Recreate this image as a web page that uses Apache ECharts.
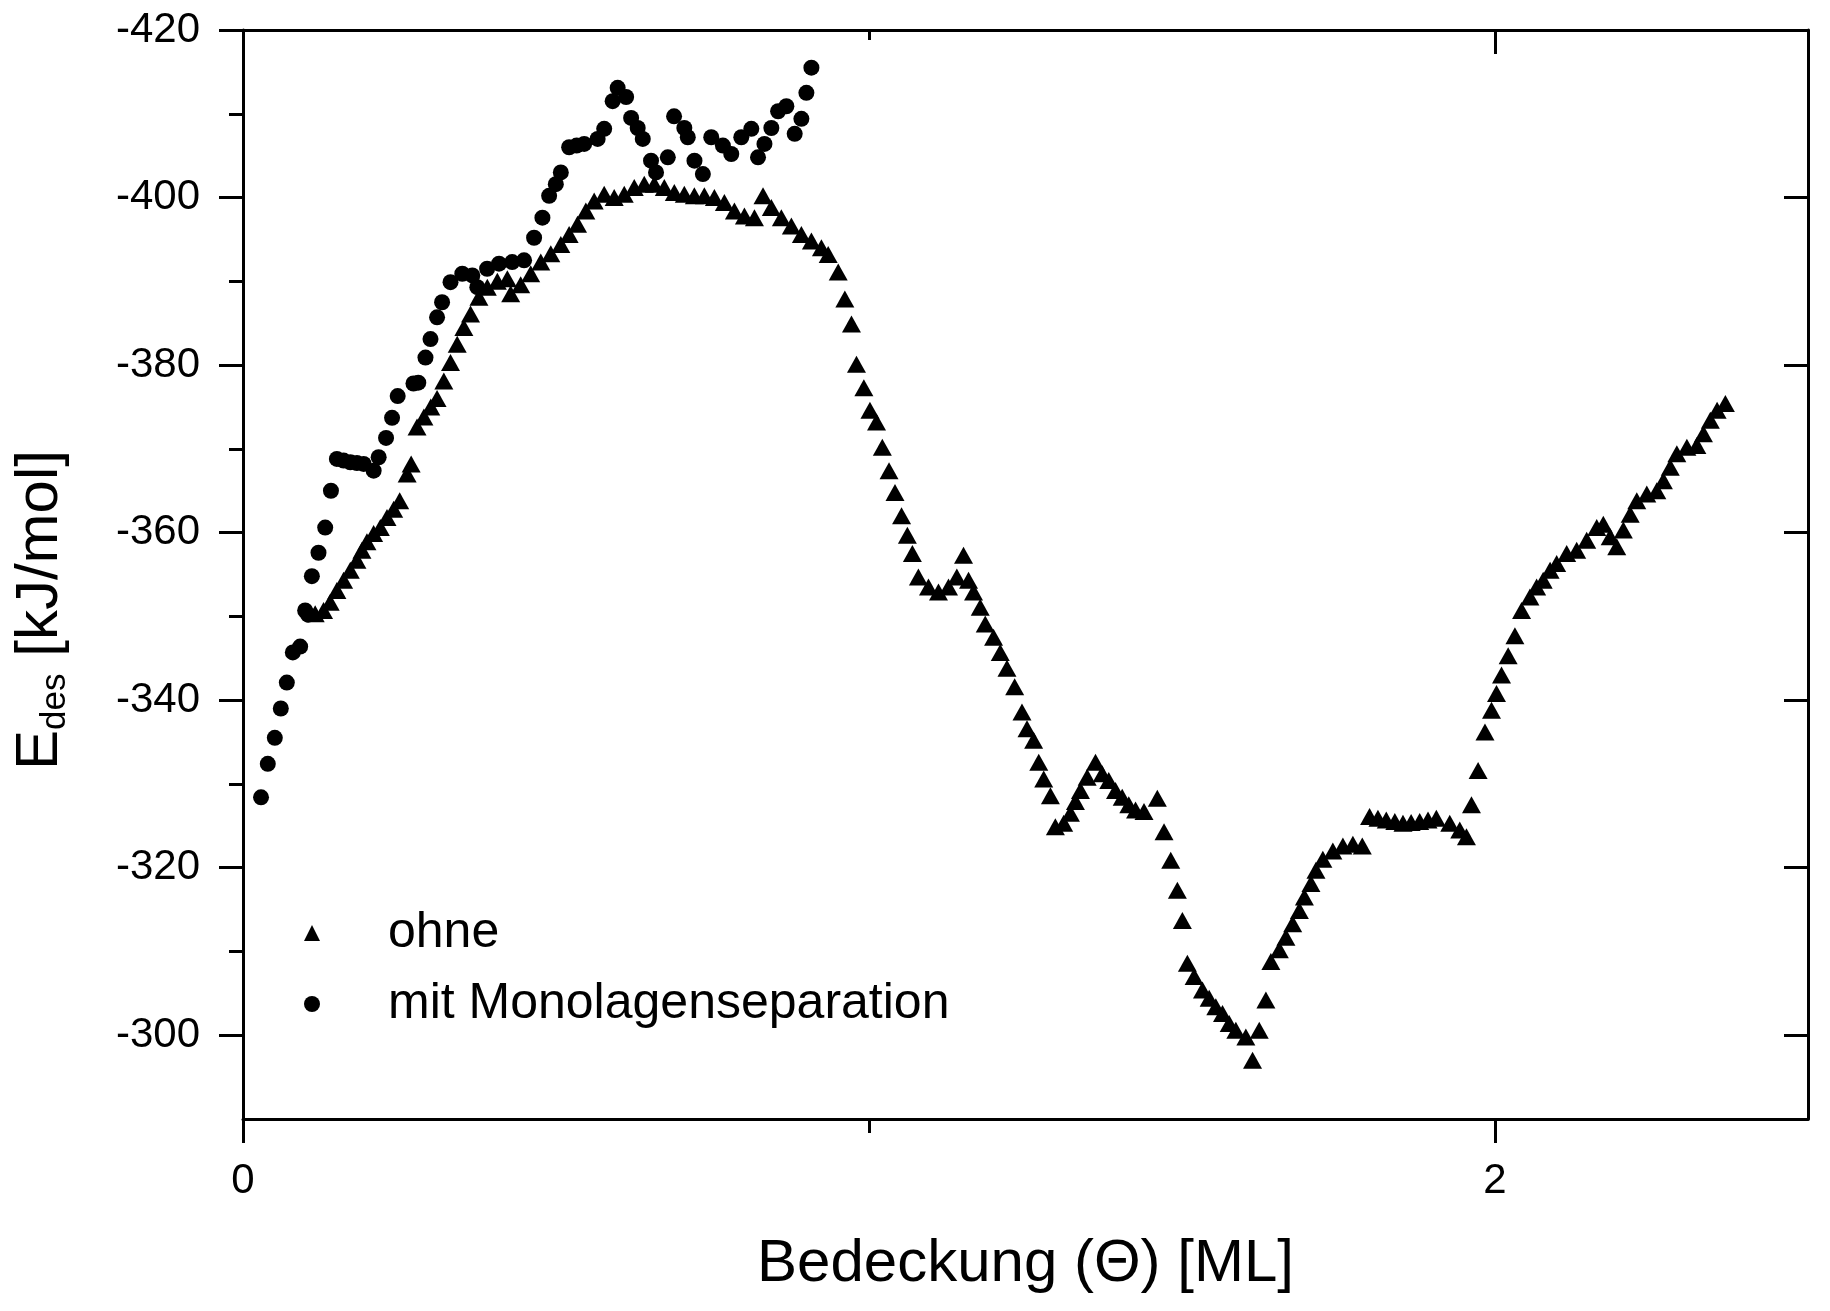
<!DOCTYPE html>
<html>
<head>
<meta charset="utf-8">
<script src="https://cdn.jsdelivr.net/npm/echarts@6/dist/echarts.min.js"></script>
<style>
html,body{margin:0;padding:0;background:#fff;}
#chart{width:1830px;height:1311px;}
</style>
</head>
<body>
<div id="chart"></div>
<script>
// ---- data ----
const seriesNames = ['ohne', 'mit Monolagenseparation'];

// "ohne" (triangles): [coverage ML, E_des kJ/mol]
const ohne = [
[0.1153,-350.3],[0.1287,-350.7],[0.1393,-351.7],[0.150,-353.1],[0.1607,-354.3],[0.1714,-355.5],
[0.182,-356.7],[0.190,-357.9],[0.198,-358.9],[0.2087,-359.9],[0.2194,-360.6],[0.230,-361.8],
[0.2407,-362.8],[0.2503,-363.8],[0.2622,-367.0],[0.2686,-368.2],[0.278,-372.6],[0.289,-373.8],
[0.300,-375.0],[0.310,-376.0],[0.3208,-378.1],[0.3315,-380.3],[0.3422,-382.5],[0.3528,-384.5],
[0.3635,-386.1],[0.3769,-388.1],[0.3903,-389.3],[0.4063,-390.0],[0.4223,-390.3],[0.4276,-388.5],
[0.4436,-389.6],[0.4596,-390.9],[0.4757,-392.3],[0.4917,-393.3],[0.5077,-394.4],[0.521,-395.6],
[0.5344,-396.8],[0.5477,-398.4],[0.561,-399.6],[0.577,-400.4],[0.593,-400.0],[0.609,-400.4],
[0.625,-401.2],[0.641,-401.6],[0.657,-401.6],[0.673,-401.2],[0.689,-400.6],[0.705,-400.4],
[0.721,-400.2],[0.737,-400.2],[0.753,-400.0],[0.769,-399.4],[0.785,-398.4],[0.801,-397.8],
[0.817,-397.6],[0.8307,-400.2],[0.844,-398.8],[0.860,-397.6],[0.876,-396.6],[0.892,-395.6],
[0.908,-394.8],[0.924,-394.0],[0.9348,-393.2],[0.9508,-391.1],[0.9614,-387.9],[0.972,-384.9],
[0.980,-380.1],[0.9918,-377.3],[1.0015,-374.6],[1.012,-373.2],[1.0213,-370.2],[1.032,-367.4],
[1.0415,-364.8],[1.052,-362.0],[1.0613,-359.7],[1.0693,-357.5],[1.0789,-354.7],[1.095,-353.5],
[1.111,-352.9],[1.127,-353.5],[1.1403,-354.7],[1.151,-357.3],[1.159,-354.3],[1.167,-352.9],
[1.1777,-351.1],[1.1857,-349.1],[1.199,-347.5],[1.2097,-345.7],[1.2204,-343.8],[1.2327,-341.6],
[1.2444,-338.6],[1.2524,-336.6],[1.263,-335.2],[1.2712,-332.6],[1.2791,-330.6],[1.2898,-328.6],
[1.2977,-324.9],[1.311,-325.3],[1.3218,-326.5],[1.3298,-327.9],[1.3378,-329.2],[1.3485,-330.8],
[1.3618,-332.6],[1.3725,-331.2],[1.383,-330.4],[1.3938,-329.2],[1.4045,-328.4],[1.415,-327.5],
[1.4258,-326.9],[1.4393,-326.7],[1.4606,-328.3],[1.4713,-324.3],[1.482,-320.9],[1.4926,-317.3],
[1.5006,-313.7],[1.5086,-308.6],[1.5194,-307.0],[1.5327,-305.4],[1.5434,-304.4],[1.554,-303.4],
[1.5647,-302.6],[1.5754,-301.4],[1.586,-300.6],[1.602,-299.8],[1.6127,-297.0],[1.6234,-300.6],
[1.634,-304.2],[1.642,-308.8],[1.6555,-310.2],[1.666,-311.7],[1.6768,-313.3],[1.6875,-314.9],
[1.6955,-316.5],[1.706,-318.1],[1.714,-319.7],[1.725,-321.0],[1.741,-322.0],[1.757,-322.6],
[1.773,-322.8],[1.788,-322.6],[1.7996,-326.1],[1.813,-325.9],[1.8263,-325.7],[1.840,-325.5],
[1.853,-325.3],[1.866,-325.4],[1.8797,-325.5],[1.893,-325.7],[1.9063,-325.9],[1.9277,-325.3],
[1.9437,-324.5],[1.9544,-323.7],[1.9624,-327.5],[1.973,-331.6],[1.984,-336.2],[1.9944,-338.8],
[2.0024,-340.8],[2.0104,-343.0],[2.021,-345.3],[2.0318,-347.7],[2.0424,-350.7],[2.0558,-352.3],
[2.0665,-353.5],[2.077,-354.3],[2.088,-355.5],[2.0985,-356.3],[2.1145,-357.5],[2.1305,-357.9],
[2.1465,-359.1],[2.1625,-360.6],[2.173,-361.0],[2.184,-359.5],[2.1945,-358.3],[2.205,-360.3],
[2.216,-362.2],[2.2265,-363.8],[2.2425,-364.6],[2.2585,-365.0],[2.269,-366.2],[2.280,-367.8],
[2.2905,-369.4],[2.3065,-370.2],[2.3225,-370.4],[2.333,-371.8],[2.344,-373.4],[2.3548,-374.6],
[2.368,-375.4]
];

// "mit Monolagenseparation" (circles)
const mit = [
[0.0288,-328.4],[0.0396,-332.4],[0.0508,-335.5],[0.0604,-339.0],[0.0700,-342.1],[0.0796,-345.7],
[0.0913,-346.4],[0.0993,-350.7],[0.104,-350.2],[0.110,-354.8],[0.1206,-357.6],[0.1313,-360.6],
[0.1405,-365.0],[0.150,-368.8],[0.1607,-368.6],[0.1714,-368.4],[0.1820,-368.3],[0.1927,-368.2],
[0.2087,-367.4],[0.2167,-369.0],[0.2285,-371.3],[0.2381,-373.7],[0.2471,-376.3],[0.2723,-377.8],
[0.2800,-377.9],[0.2915,-380.9],[0.2995,-383.1],[0.310,-385.7],[0.318,-387.5],[0.3315,-389.9],
[0.3503,-390.9],[0.3663,-390.7],[0.3743,-389.3],[0.390,-391.5],[0.409,-392.1],[0.430,-392.3],
[0.449,-392.5],[0.465,-395.2],[0.4783,-397.6],[0.489,-400.2],[0.4997,-401.6],[0.5077,-403.0],
[0.521,-406.0],[0.533,-406.2],[0.545,-406.4],[0.5665,-407.0],[0.577,-408.2],[0.5905,-411.5],
[0.5985,-413.1],[0.612,-412.0],[0.620,-409.5],[0.6305,-408.3],[0.6386,-407.0],[0.6518,-404.4],
[0.6598,-403.0],[0.6786,-404.8],[0.6886,-409.7],[0.705,-408.3],[0.7105,-407.2],[0.7212,-404.4],
[0.7346,-402.8],[0.748,-407.2],[0.7666,-406.2],[0.780,-405.2],[0.796,-407.2],[0.812,-408.2],
[0.8227,-404.8],[0.833,-406.4],[0.844,-408.3],[0.8548,-410.3],[0.868,-410.9],[0.8813,-407.6],
[0.892,-409.4],[0.900,-412.5],[0.908,-415.5]
];

// axis ticks / labels
const xMajorTicks = [0, 2];
const xMinorTicks = [1];
const yMajorTicks = [-420, -400, -380, -360, -340, -320, -300];
const yMinorTicks = [-410, -390, -370, -350, -330, -310];
const xRange = [0, 2.5];
const yRange = [-420, -290];
const xTitle = 'Bedeckung (\u0398) [ML]';

// ---- chart ----
const FONT = "'Liberation Sans', Arial, Helvetica, sans-serif";
const BLACK = '#000';
const chart = echarts.init(document.getElementById('chart'), null, {renderer: 'canvas'});

function xAx(pos, opts) {
  return Object.assign({
    type: 'value', position: pos, min: xRange[0], max: xRange[1], interval: 0.5,
    splitLine: {show: false},
    axisLine: {show: false, lineStyle: {color: BLACK, width: 3}},
    axisLabel: {show: false},
    axisTick: {show: false}
  }, opts);
}
function yAx(pos, opts) {
  return Object.assign({
    type: 'value', position: pos, min: yRange[0], max: yRange[1], interval: 10, inverse: true,
    splitLine: {show: false},
    axisLine: {show: false, lineStyle: {color: BLACK, width: 3}},
    axisLabel: {show: false},
    axisTick: {show: false}
  }, opts);
}

const option = {
  backgroundColor: '#fff',
  animation: false,
  grid: {left: 243, right: 22, top: 30, bottom: 192, containLabel: false},
  xAxis: [
    xAx('bottom', {
      axisLine: {show: true, onZero: false, lineStyle: {color: BLACK, width: 3}},
      axisTick: {show: true, customValues: xMajorTicks, length: 24, lineStyle: {color: BLACK, width: 3}},
      axisLabel: {show: true, customValues: xMajorTicks, margin: 41, fontSize: 42, color: BLACK, fontFamily: FONT},
      name: xTitle, nameLocation: 'middle', nameGap: 115,
      nameTextStyle: {fontSize: 60, color: BLACK, fontFamily: FONT}
    }),
    xAx('bottom', {
      axisTick: {show: true, customValues: xMinorTicks, length: 14, lineStyle: {color: BLACK, width: 3}}
    }),
    xAx('top', {
      axisLine: {show: true, onZero: false, lineStyle: {color: BLACK, width: 3}},
      axisTick: {show: true, inside: true, customValues: xMajorTicks, length: 24, lineStyle: {color: BLACK, width: 3}}
    }),
    xAx('top', {
      axisTick: {show: true, inside: true, customValues: xMinorTicks, length: 10, lineStyle: {color: BLACK, width: 3}}
    })
  ],
  yAxis: [
    yAx('left', {
      axisLine: {show: true, onZero: false, lineStyle: {color: BLACK, width: 3}},
      axisTick: {show: true, customValues: yMajorTicks, length: 24, lineStyle: {color: BLACK, width: 3}},
      axisLabel: {show: true, customValues: yMajorTicks, margin: 43, fontSize: 42, color: BLACK, fontFamily: FONT},
      name: '{m|E}{s|des}{m| [kJ/mol]}', nameLocation: 'middle', nameGap: 170, nameRotate: 90,
      nameTextStyle: {
        color: BLACK, fontFamily: FONT, fontSize: 60, padding: [0, 71, 0, 0],
        rich: {
          m: {fontSize: 60, fontFamily: FONT, color: BLACK, lineHeight: 66},
          s: {fontSize: 35, fontFamily: FONT, color: BLACK, verticalAlign: 'bottom', lineHeight: 35}
        }
      }
    }),
    yAx('left', {
      axisTick: {show: true, customValues: yMinorTicks, length: 14, lineStyle: {color: BLACK, width: 3}}
    }),
    yAx('right', {
      axisLine: {show: true, onZero: false, lineStyle: {color: BLACK, width: 3}},
      axisTick: {show: true, inside: true, customValues: yMajorTicks, length: 24, lineStyle: {color: BLACK, width: 3}}
    }),
    yAx('right', {
      axisTick: {show: true, inside: true, customValues: yMinorTicks, length: 11, lineStyle: {color: BLACK, width: 3}}
    })
  ],
  legend: {
    orient: 'vertical', left: 299, top: 903, itemGap: 21,
    itemWidth: 16, itemHeight: 16,
    selectedMode: false,
    data: [{name: seriesNames[0], icon: 'triangle'}, {name: seriesNames[1], icon: 'circle'}],
    textStyle: {fontSize: 50, lineHeight: 50, color: BLACK, fontFamily: FONT, padding: [0, 0, 0, 63]}
  },
  series: [
    {
      name: seriesNames[0], type: 'scatter', xAxisIndex: 0, yAxisIndex: 0,
      symbol: 'triangle', symbolSize: [19, 17],
      itemStyle: {color: BLACK, opacity: 1},
      data: ohne
    },
    {
      name: seriesNames[1], type: 'scatter', xAxisIndex: 0, yAxisIndex: 0,
      symbol: 'circle', symbolSize: 16,
      itemStyle: {color: BLACK, opacity: 1},
      data: mit
    }
  ]
};
chart.setOption(option);
</script>
</body>
</html>
